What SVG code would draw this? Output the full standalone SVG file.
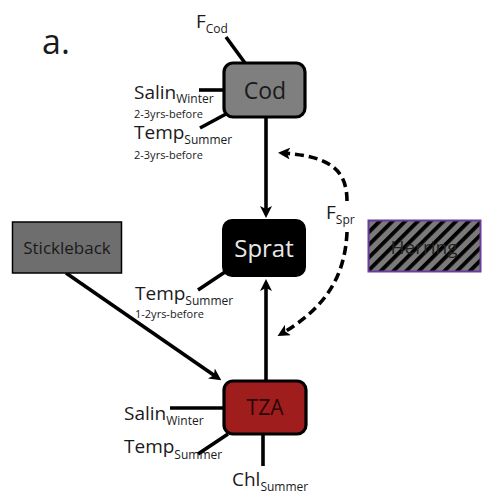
<svg xmlns="http://www.w3.org/2000/svg" width="483" height="494" viewBox="0 0 483 494">
  <style>
    text { font-family: "Open Sans", "Liberation Sans", sans-serif; fill: #1a1a1a; }
    .lbl { font-size: 19px; }
    .sub { font-size: 12px; }
    .note { font-size: 11px; }
    .line { stroke: #000; stroke-width: 3.6; fill: none; }
    .arrow { stroke: #000; stroke-width: 3.6; fill: none; marker-end: url(#head); }
    .dash { stroke: #000; stroke-width: 3.6; fill: none; stroke-dasharray: 9 5; marker-end: url(#head); }
    .box { stroke: #000; stroke-width: 3.2; }
    .name { font-size: 22px; text-anchor: middle; }
  </style>
  <defs>
    <marker id="head" markerWidth="12" markerHeight="12" refX="8" refY="6" orient="auto" markerUnits="userSpaceOnUse" viewBox="0 0 12 12">
      <path d="M0,0 L12,6 L0,12 L3,6 Z" fill="#000"/>
    </marker>
    <pattern id="hatch" width="9" height="9" patternUnits="userSpaceOnUse" patternTransform="rotate(45)">
      <rect width="9" height="9" fill="#7a7a7a"/>
      <rect x="0" y="0" width="3.8" height="9" fill="#000"/>
    </pattern>
  </defs>

  <text x="42" y="54" style="font-size:34px">a.</text>

  <g id="connectors">
    <!-- Cod drivers -->
    <line class="line" x1="245" y1="63" x2="226" y2="37"/>
    <line class="line" x1="199" y1="90" x2="224" y2="90"/>
    <line class="line" x1="200" y1="128" x2="226" y2="114"/>
    <!-- Cod to Sprat -->
    <line class="arrow" x1="266" y1="118" x2="266" y2="214"/>
    <!-- Sprat temperature -->
    <line class="line" x1="225" y1="272" x2="198" y2="290"/>
    <!-- Stickleback to TZA -->
    <line class="arrow" x1="66" y1="273" x2="218" y2="378"/>
    <!-- TZA to Sprat -->
    <line class="arrow" x1="266" y1="380" x2="266" y2="283"/>
    <!-- TZA drivers -->
    <line class="line" x1="170" y1="408" x2="224" y2="408"/>
    <line class="line" x1="198" y1="454" x2="228" y2="434"/>
    <line class="line" x1="263" y1="434" x2="263" y2="466"/>
    <!-- Sprat fishing pressure -->
    <path class="dash" d="M347,201 C347,170 330,156 282,153"/>
    <path class="dash" d="M347,232 C345,280 322,310 281,334"/>
  </g>

  <g id="cod">
    <rect class="box" x="224" y="63" width="81" height="54" rx="9" fill="#7f7f7f"/>
    <text class="name" x="265" y="99" style="font-size:23px">Cod</text>
  </g>

  <g id="f-cod">
    <text class="lbl" x="196" y="28">F<tspan class="sub" dy="5">Cod</tspan></text>
  </g>

  <g id="salin-cod">
    <text class="lbl" x="134" y="99">Salin<tspan class="sub" dy="4">Winter</tspan></text>
    <text class="note" x="134" y="118">2-3yrs-before</text>
  </g>

  <g id="temp-cod">
    <text class="lbl" x="134" y="139">Temp<tspan class="sub" dy="5">Summer</tspan></text>
    <text class="note" x="134" y="159">2-3yrs-before</text>
  </g>

  <g id="sprat">
    <rect x="222" y="219" width="84" height="58" rx="10" fill="#000"/>
    <text class="name" x="264" y="257" style="fill:#e8e8e8;font-size:24px">Sprat</text>
  </g>

  <g id="temp-sprat">
    <text class="lbl" x="135" y="300">Temp<tspan class="sub" dy="5">Summer</tspan></text>
    <text class="note" x="135" y="318">1-2yrs-before</text>
  </g>

  <g id="f-spr">
    <text class="lbl" x="326" y="219">F<tspan class="sub" dy="5">Spr</tspan></text>
  </g>

  <g id="stickleback">
    <rect x="12.5" y="222" width="109" height="51" fill="#6e6e6e" stroke="#000" stroke-width="1.5"/>
    <text x="67" y="254" style="font-size:17px;text-anchor:middle">Stickleback</text>
  </g>

  <g id="herring">
    <rect x="368.5" y="220.5" width="112" height="51" fill="url(#hatch)" stroke="#6a3d9a" stroke-width="2"/>
    <text x="424" y="254" style="font-size:19px;text-anchor:middle;fill:#222">Herring</text>
  </g>

  <g id="tza">
    <rect class="box" x="224" y="381" width="82" height="53" rx="9" fill="#a01d1e"/>
    <text class="name" x="265" y="415" style="font-size:21px;fill:#2a0606">TZA</text>
  </g>

  <g id="salin-tza">
    <text class="lbl" x="124" y="420">Salin<tspan class="sub" dy="5">Winter</tspan></text>
  </g>

  <g id="temp-tza">
    <text class="lbl" x="124" y="453">Temp<tspan class="sub" dy="6">Summer</tspan></text>
  </g>

  <g id="chl-tza">
    <text class="lbl" x="232" y="486">Chl<tspan class="sub" dy="5">Summer</tspan></text>
  </g>
</svg>
